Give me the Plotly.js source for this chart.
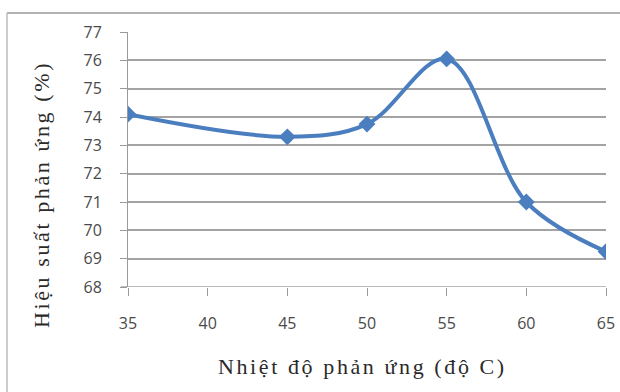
<!DOCTYPE html>
<html>
<head>
<meta charset="utf-8">
<script src="https://cdn.plot.ly/plotly-3.0.1.min.js"></script>
<style>
html,body{margin:0;padding:0;background:#fff;}
#chart{width:620px;height:392px;}
.annotation-text{letter-spacing:2.6px;}
</style>
</head>
<body>
<div id="chart"></div>
<script>
const temperatures = [35, 45, 50, 55, 60, 65];
const yieldPercent = [74.1, 73.3, 73.75, 76.05, 71.0, 69.25];
const xTicks = [35, 40, 45, 50, 55, 60, 65];
const yTicks = [68, 69, 70, 71, 72, 73, 74, 75, 76, 77];
const xTitle = "Nhiệt độ phản ứng (độ C)";
const yTitle = "Hiệu suất phản ứng (%)";

const tickFont = {family: 'Open Sans, DejaVu Sans, sans-serif', size: 16, color: '#4a4a4a'};
const titleFont = {family: 'Liberation Serif, serif', size: 22, color: '#2a2a2a'};

const trace = {
  x: temperatures,
  y: yieldPercent,
  xaxis: 'x', yaxis: 'y2',
  type: 'scatter',
  mode: 'lines+markers',
  line: {shape: 'spline', smoothing: 1, color: '#4a7ebf', width: 4},
  marker: {symbol: 'diamond', size: 13, color: '#4a7ebf'},
  hoverinfo: 'skip'
};

const L = 128, T = 32, W = 478, H = 255;
function px(x) { return (x - L) / W; }
function py(y) { return (T + H - y) / H; }

const layout = {
  width: 620, height: 392,
  margin: {l: L, r: 620 - L - W, t: T, b: 392 - T - H},
  paper_bgcolor: '#fff', plot_bgcolor: '#fff',
  showlegend: false,
  xaxis: {
    range: [35, 65], tickvals: xTicks, ticktext: xTicks.map(String),
    showgrid: false, zeroline: false, showline: false,
    ticks: 'outside', ticklen: 8, tickcolor: '#999', tickwidth: 1,
    ticklabelstandoff: 14,
    tickfont: tickFont
  },
  yaxis: {
    range: [68, 77], tickvals: yTicks, showticklabels: false,
    showgrid: true, gridcolor: '#a3a3a3', gridwidth: 2, zeroline: false,
    showline: true, linecolor: '#999', linewidth: 1,
    ticks: 'outside', ticklen: 7, tickcolor: '#999', tickwidth: 1
  },
  yaxis2: {
    overlaying: 'y', side: 'left', anchor: 'x',
    range: [68, 77], tickvals: yTicks, ticktext: yTicks.map(String),
    showgrid: false, zeroline: false, showline: false,
    ticks: 'outside', ticklen: 22, tickcolor: 'rgba(0,0,0,0)',
    tickfont: tickFont
  },
  annotations: [
    {text: xTitle, xref: 'paper', yref: 'paper', x: px(362), y: py(366), xanchor: 'center', yanchor: 'middle', showarrow: false, font: titleFont},
    {text: yTitle, xref: 'paper', yref: 'paper', x: px(41), y: py(195), xanchor: 'center', yanchor: 'middle', textangle: -90, showarrow: false, font: titleFont}
  ],
  shapes: [
    {type: 'line', xref: 'paper', yref: 'paper', x0: px(7), x1: px(625), y0: py(13), y1: py(13), line: {color: '#999', width: 1.5}},
    {type: 'line', xref: 'paper', yref: 'paper', x0: px(7), x1: px(7), y0: py(13), y1: py(400), line: {color: '#bbb', width: 1.5}},
    {type: 'line', xref: 'paper', yref: 'y', x0: px(121), x1: 1, y0: 68, y1: 68, line: {color: '#a3a3a3', width: 1.5}, layer: 'below'}
  ]
};

Plotly.newPlot('chart', [trace], layout, {displayModeBar: false, staticPlot: true});
</script>
</body>
</html>
